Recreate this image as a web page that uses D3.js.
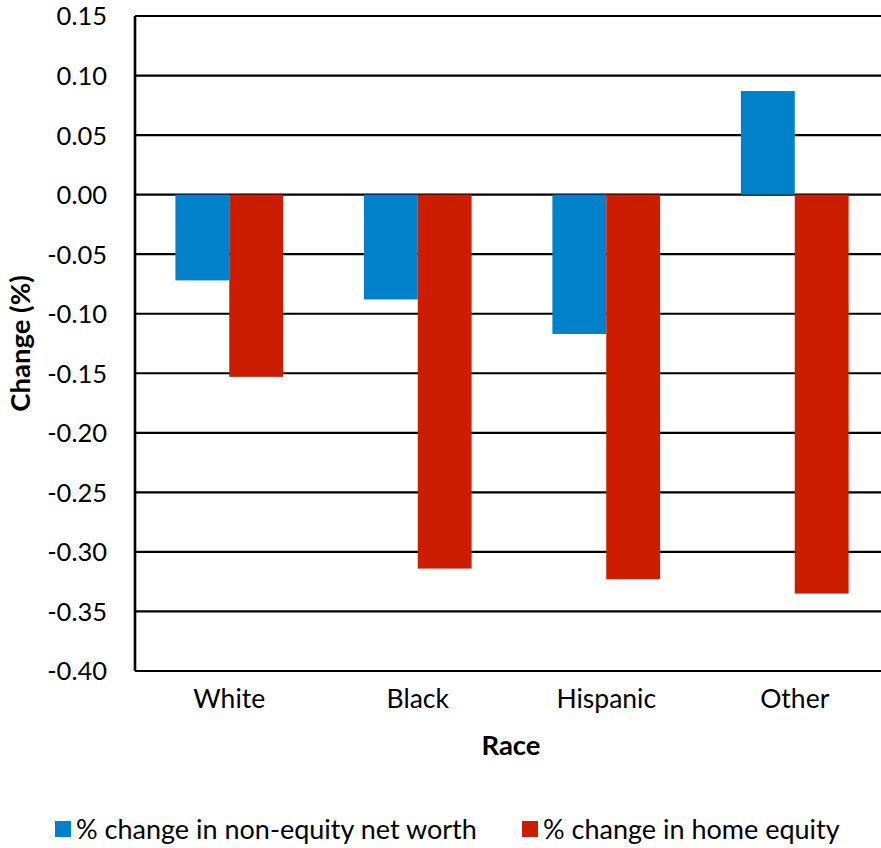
<!DOCTYPE html>
<html>
<head>
<meta charset="utf-8">
<script src="https://cdn.jsdelivr.net/npm/d3@7"></script>
<style>
  html, body { margin: 0; padding: 0; background: #fff; }
  svg { display: block; font-family: Lato, "Open Sans", sans-serif; }
</style>
</head>
<body>
<svg id="chart" width="881" height="848"></svg>
<script>
const categories = ["White", "Black", "Hispanic", "Other"];
const seriesNames = ["% change in non-equity net worth", "% change in home equity"];
const nonEquity = [-0.072, -0.088, -0.117, 0.087];
const homeEquity = [-0.153, -0.314, -0.323, -0.335];
const yTicks = [0.15, 0.10, 0.05, 0.00, -0.05, -0.10, -0.15, -0.20, -0.25, -0.30, -0.35, -0.40];
const colors = ["#0081CA", "#CC1D00"];

const svg = d3.select("#chart");
const margin = { left: 135, top: 16, right: -8, bottom: 177 };
const W = 881, H = 848;
const plotW = W - margin.left - margin.right;
const plotH = H - margin.top - margin.bottom;

const g = svg.append("g").attr("transform", `translate(${margin.left},${margin.top})`);

const x = d3.scaleBand().domain(categories).range([0, plotW]).paddingInner(0).paddingOuter(0);
const gap = 1.5; // gap between groups, in bar widths
const barW = x.bandwidth() / (2 + gap);
const xs = d3.scaleBand().domain([0, 1]).range([barW * gap / 2, barW * gap / 2 + 2 * barW]);

const y = d3.scaleLinear().domain([-0.40, 0.15]).range([plotH, 0]);

// horizontal gridlines
g.append("g").selectAll("line").data(yTicks).join("line")
  .attr("x1", 0).attr("x2", plotW)
  .attr("y1", d => y(d)).attr("y2", d => y(d))
  .attr("stroke", "#000").attr("stroke-width", 2.2);

// bars
const rows = categories.map((c, i) => ({ c, vals: [nonEquity[i], homeEquity[i]] }));
const grp = g.append("g").selectAll("g").data(rows).join("g")
  .attr("transform", d => `translate(${x(d.c)},0)`);
grp.selectAll("rect").data(d => d.vals.map((v, k) => ({ v, k }))).join("rect")
  .attr("x", d => xs(d.k))
  .attr("width", xs.bandwidth())
  .attr("y", d => y(Math.max(0, d.v)))
  .attr("height", d => Math.abs(y(d.v) - y(0)))
  .attr("fill", d => colors[d.k]);

// y axis line
g.append("line").attr("x1", 0).attr("x2", 0).attr("y1", 0).attr("y2", plotH)
  .attr("stroke", "#000").attr("stroke-width", 2.6);

// y tick labels (plain hyphen for negatives)
const fmt = d3.format(".2f");
const yAxis = d3.axisLeft(y).tickValues(yTicks).tickSize(0).tickPadding(28)
  .tickFormat(d => fmt(d).replace("\u2212", "-"));
const ya = g.append("g").call(yAxis);
ya.select(".domain").remove();
ya.selectAll("text").attr("font-size", 25.5).attr("fill", "#000")
  .style("font-family", "Lato, sans-serif").attr("dy", "0.35em");

// x category labels
const xAxis = d3.axisBottom(x).tickSize(0).tickPadding(18);
const xa = g.append("g").attr("transform", `translate(0,${plotH})`).call(xAxis);
xa.select(".domain").remove();
xa.selectAll("text").attr("font-size", 26.5).attr("fill", "#000")
  .style("font-family", "Lato, sans-serif");

// axis titles
svg.append("text").attr("transform", `translate(30,${margin.top + plotH / 2}) rotate(-90)`)
  .attr("text-anchor", "middle").attr("font-size", 27.5).attr("font-weight", "bold")
  .text("Change (%)");
svg.append("text").attr("x", 511).attr("y", 755)
  .attr("text-anchor", "middle").attr("font-size", 27.5).attr("font-weight", "bold")
  .text("Race");

// legend
const legendPos = [55, 522];
const lg = svg.append("g").selectAll("g").data(seriesNames).join("g")
  .attr("transform", (d, i) => `translate(${legendPos[i]},821)`);
lg.append("rect").attr("width", 16).attr("height", 16).attr("fill", (d, i) => colors[i]);
lg.append("text").attr("x", 21).attr("y", 9).attr("dy", "0.35em")
  .attr("font-size", 27).attr("fill", "#000").text(d => d);
</script>
</body>
</html>
